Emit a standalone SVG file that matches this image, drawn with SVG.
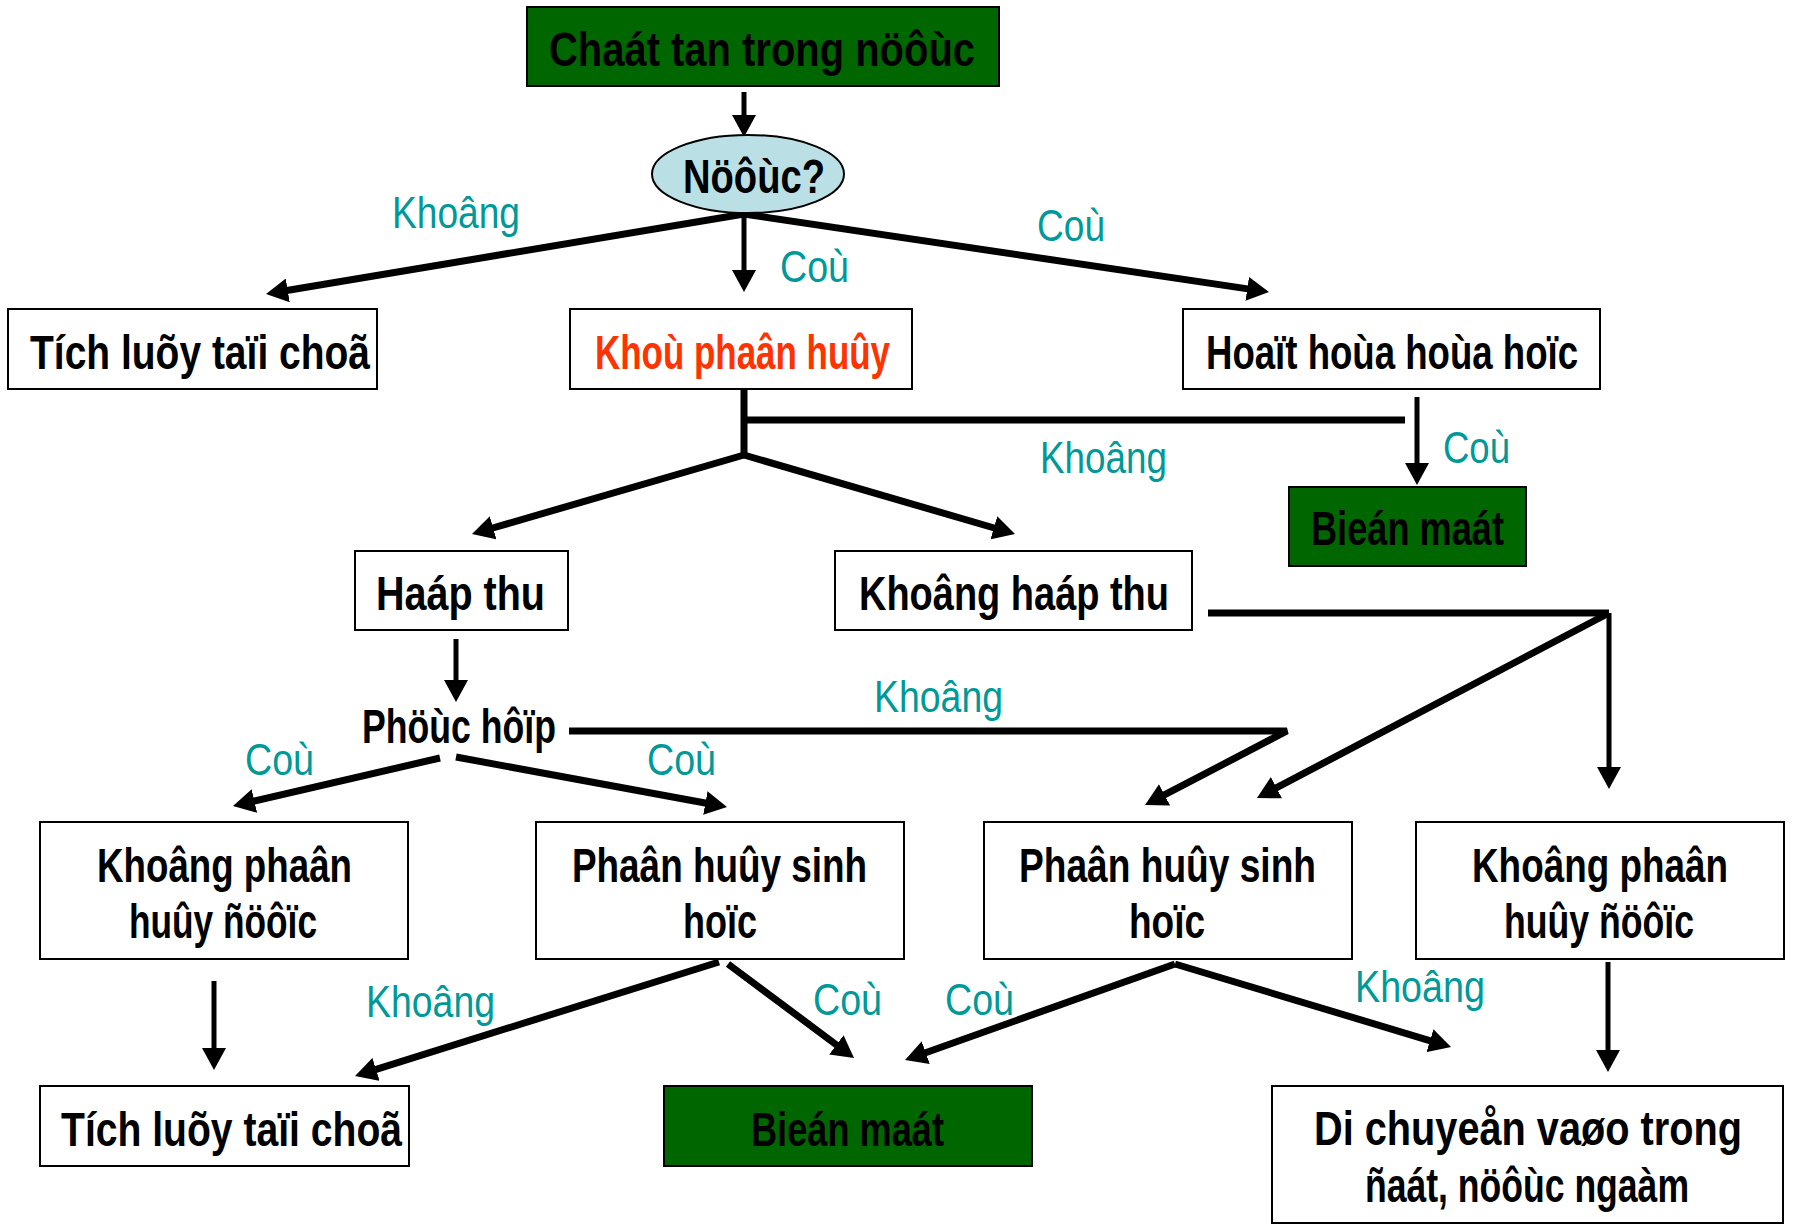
<svg xmlns="http://www.w3.org/2000/svg" width="1796" height="1225" viewBox="0 0 1796 1225">
<style>
.box{fill:#fff;stroke:#000;stroke-width:2}
.gbox{fill:#006600;stroke:#000;stroke-width:2}
.t{font-family:"Liberation Sans",Arial,sans-serif;font-weight:bold;font-size:48px;fill:#000}
.red{fill:#FF3300}
.lbl{font-family:"Liberation Sans",Arial,sans-serif;font-size:45px;fill:#009999}
.c{stroke:#000;stroke-width:7;fill:none}
.cv{stroke:#000;stroke-width:5;fill:none}
.ca{marker-end:url(#ah)}
</style>
<defs>
<marker id="ah" viewBox="0 0 22 24" refX="4" refY="12" markerWidth="22" markerHeight="24" markerUnits="userSpaceOnUse" orient="auto">
<path d="M0,0 L22,12 L0,24 Z" fill="#000"/>
</marker>
</defs>
<rect width="1796" height="1225" fill="#fff"/>

<g id="connectors">
<line class="cv ca" x1="744" y1="92" x2="744" y2="119"/>
<line class="c ca" x1="744" y1="214" x2="283.8" y2="291"/>
<line class="cv ca" x1="744" y1="214" x2="744" y2="274"/>
<line class="c ca" x1="744" y1="214" x2="1251.2" y2="289.4"/>
<polyline class="c" points="744,389 744,455"/>
<line class="c" x1="744" y1="420" x2="1405" y2="420"/>
<line class="cv ca" x1="1417" y1="397" x2="1417" y2="467"/>
<line class="c ca" x1="744" y1="455" x2="489.3" y2="529"/>
<line class="c ca" x1="744" y1="455" x2="997.7" y2="529"/>
<line class="cv ca" x1="456" y1="639" x2="456" y2="684"/>
<polyline class="c ca" points="569,731 1287,731 1161,796.7"/>
<polyline class="c" points="1208,613 1609,613"/>
<line class="c ca" x1="1609" y1="613" x2="1272.9" y2="789.6"/>
<line class="cv ca" x1="1609" y1="613" x2="1609" y2="771"/>
<line class="c ca" x1="440" y1="758" x2="250.5" y2="801.9"/>
<line class="c ca" x1="456" y1="757" x2="709.3" y2="803.7"/>
<line class="cv ca" x1="214" y1="981" x2="214" y2="1052"/>
<line class="c ca" x1="719" y1="962" x2="372.2" y2="1070.6"/>
<line class="c ca" x1="728" y1="964" x2="839.6" y2="1047.2"/>
<line class="c ca" x1="1175" y1="964" x2="922" y2="1054"/>
<line class="c ca" x1="1175" y1="964" x2="1433.8" y2="1041.8"/>
<line class="cv ca" x1="1608" y1="962" x2="1608" y2="1054"/>
</g>

<g id="labels">
<text class="lbl" x="392" y="228" textLength="128" lengthAdjust="spacingAndGlyphs">Khoâng</text>
<text class="lbl" x="780" y="282" textLength="69" lengthAdjust="spacingAndGlyphs">Coù</text>
<text class="lbl" x="1037" y="241" textLength="68" lengthAdjust="spacingAndGlyphs">Coù</text>
<text class="lbl" x="1040" y="473" textLength="127" lengthAdjust="spacingAndGlyphs">Khoâng</text>
<text class="lbl" x="1443" y="463" textLength="67" lengthAdjust="spacingAndGlyphs">Coù</text>
<text class="lbl" x="874" y="712" textLength="129" lengthAdjust="spacingAndGlyphs">Khoâng</text>
<text class="lbl" x="245" y="775" textLength="69" lengthAdjust="spacingAndGlyphs">Coù</text>
<text class="lbl" x="647" y="775" textLength="69" lengthAdjust="spacingAndGlyphs">Coù</text>
<text class="lbl" x="366" y="1017" textLength="129" lengthAdjust="spacingAndGlyphs">Khoâng</text>
<text class="lbl" x="813" y="1015" textLength="69" lengthAdjust="spacingAndGlyphs">Coù</text>
<text class="lbl" x="945" y="1015" textLength="69" lengthAdjust="spacingAndGlyphs">Coù</text>
<text class="lbl" x="1355" y="1002" textLength="130" lengthAdjust="spacingAndGlyphs">Khoâng</text>
</g>

<g id="n-chat-tan">
<rect class="gbox" x="527" y="7" width="472" height="79"/>
<text class="t" x="549" y="66" textLength="426" lengthAdjust="spacingAndGlyphs">Chaát tan trong nöôùc</text>
</g>
<g id="n-nuoc">
<ellipse cx="748" cy="174" rx="96" ry="39" fill="#BAE0E5" stroke="#000" stroke-width="2"/>
<text class="t" x="683" y="193" font-size="51" textLength="142" lengthAdjust="spacingAndGlyphs">Nöôùc?</text>
</g>
<g id="n-tich-luy-1">
<rect class="box" x="8" y="309" width="369" height="80"/>
<text class="t" x="30" y="369" textLength="340" lengthAdjust="spacingAndGlyphs">Tích luõy taïi choã</text>
</g>
<g id="n-kho-phan-huy">
<rect class="box" x="570" y="309" width="342" height="80"/>
<text class="t red" x="595" y="369" textLength="295" lengthAdjust="spacingAndGlyphs">Khoù phaân huûy</text>
</g>
<g id="n-hoat-hoa">
<rect class="box" x="1183" y="309" width="417" height="80"/>
<text class="t" x="1206" y="369" textLength="372" lengthAdjust="spacingAndGlyphs">Hoaït hoùa hoùa hoïc</text>
</g>
<g id="n-bien-mat-1">
<rect class="gbox" x="1289" y="487" width="237" height="79"/>
<text class="t" x="1311" y="545" textLength="193" lengthAdjust="spacingAndGlyphs">Bieán maát</text>
</g>
<g id="n-hap-thu">
<rect class="box" x="355" y="551" width="213" height="79"/>
<text class="t" x="376" y="610" textLength="169" lengthAdjust="spacingAndGlyphs">Haáp thu</text>
</g>
<g id="n-khong-hap-thu">
<rect class="box" x="835" y="551" width="357" height="79"/>
<text class="t" x="859" y="610" textLength="310" lengthAdjust="spacingAndGlyphs">Khoâng haáp thu</text>
</g>
<g id="n-phuc-hop">
<text class="t" x="362" y="743" textLength="194" lengthAdjust="spacingAndGlyphs">Phöùc hôïp</text>
</g>
<g id="n-khong-phan-huy-1">
<rect class="box" x="40" y="822" width="368" height="137"/>
<text class="t" x="97" y="882" textLength="255" lengthAdjust="spacingAndGlyphs">Khoâng phaân</text>
<text class="t" x="129" y="938" textLength="188" lengthAdjust="spacingAndGlyphs">huûy ñöôïc</text>
</g>
<g id="n-phan-huy-sinh-hoc-1">
<rect class="box" x="536" y="822" width="368" height="137"/>
<text class="t" x="572" y="882" textLength="295" lengthAdjust="spacingAndGlyphs">Phaân huûy sinh</text>
<text class="t" x="683" y="938" textLength="74" lengthAdjust="spacingAndGlyphs">hoïc</text>
</g>
<g id="n-phan-huy-sinh-hoc-2">
<rect class="box" x="984" y="822" width="368" height="137"/>
<text class="t" x="1019" y="882" textLength="297" lengthAdjust="spacingAndGlyphs">Phaân huûy sinh</text>
<text class="t" x="1129" y="938" textLength="76" lengthAdjust="spacingAndGlyphs">hoïc</text>
</g>
<g id="n-khong-phan-huy-2">
<rect class="box" x="1416" y="822" width="368" height="137"/>
<text class="t" x="1472" y="882" textLength="256" lengthAdjust="spacingAndGlyphs">Khoâng phaân</text>
<text class="t" x="1504" y="938" textLength="190" lengthAdjust="spacingAndGlyphs">huûy ñöôïc</text>
</g>
<g id="n-tich-luy-2">
<rect class="box" x="40" y="1086" width="369" height="80"/>
<text class="t" x="61" y="1146" textLength="341" lengthAdjust="spacingAndGlyphs">Tích luõy taïi choã</text>
</g>
<g id="n-bien-mat-2">
<rect class="gbox" x="664" y="1086" width="368" height="80"/>
<text class="t" x="751" y="1146" textLength="193" lengthAdjust="spacingAndGlyphs">Bieán maát</text>
</g>
<g id="n-di-chuyen">
<rect class="box" x="1272" y="1086" width="511" height="137"/>
<text class="t" x="1314" y="1145" textLength="428" lengthAdjust="spacingAndGlyphs">Di chuyeån vaøo trong</text>
<text class="t" x="1365" y="1202" textLength="324" lengthAdjust="spacingAndGlyphs">ñaát, nöôùc ngaàm</text>
</g>
</svg>
